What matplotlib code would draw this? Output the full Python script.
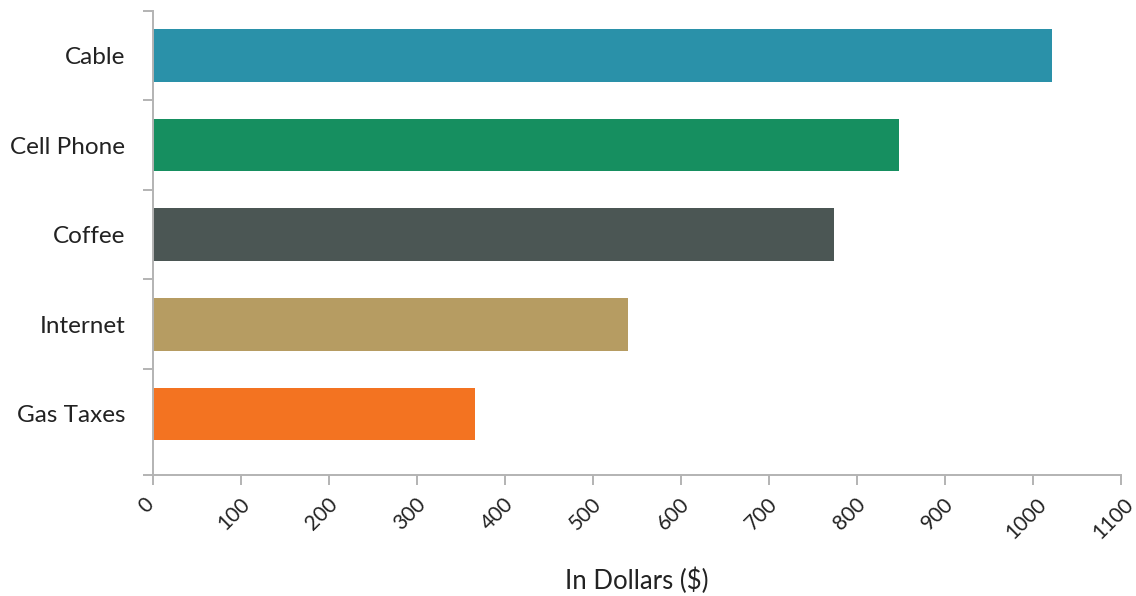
import matplotlib
matplotlib.use("Agg")
import matplotlib.pyplot as plt
import matplotlib.transforms as mtransforms
import numpy as np

plt.rcParams['font.family'] = ['Lato', 'DejaVu Sans']

categories = ["Cable", "Cell Phone", "Coffee", "Internet", "Gas Taxes"]
values = [1022, 848, 774, 540, 366]
colors = ["#2a91a9", "#168f60", "#4b5654", "#b69c62", "#f37321"]
xticks = list(range(0, 1101, 100))

fig = plt.figure(figsize=(11.36, 5.96), dpi=100)
ax = fig.add_axes([0.1347, 0.2035, 0.8518, 0.7785])

pos = np.arange(len(categories))
ax.barh(pos, values, height=0.587, color=colors)
ybottom = 4.68
ax.set_ylim(ybottom, -0.5)
ax.set_xlim(0, 1100)

grey = "#b3b3b3"
for s in ["top", "right"]:
    ax.spines[s].set_visible(False)
for s in ["left", "bottom"]:
    ax.spines[s].set_color(grey)
    ax.spines[s].set_linewidth(1.4)

ax.set_yticks(pos)
ax.set_yticklabels(categories, fontsize=17.5, color="#222222")
ax.tick_params(axis="y", which="major", length=0, pad=20)
ax.set_yticks(list(np.arange(-0.5, len(categories) - 1)) + [ybottom], minor=True)
ax.tick_params(axis="y", which="minor", length=7, width=1.4, color=grey)

ax.set_xticks(xticks)
ax.set_xticklabels([str(t) for t in xticks], rotation=45, ha="center",
                   fontsize=15, color="#222222")
ax.tick_params(axis="x", length=7, width=1.4, color=grey, pad=7)
shift = mtransforms.ScaledTranslation(-7 / 100, 0, fig.dpi_scale_trans)
for lab in ax.get_xticklabels():
    lab.set_transform(lab.get_transform() + shift)
ax.set_xlabel("In Dollars ($)", fontsize=18.5, color="#222222", labelpad=18)

fig.savefig("out.png", dpi=100)
